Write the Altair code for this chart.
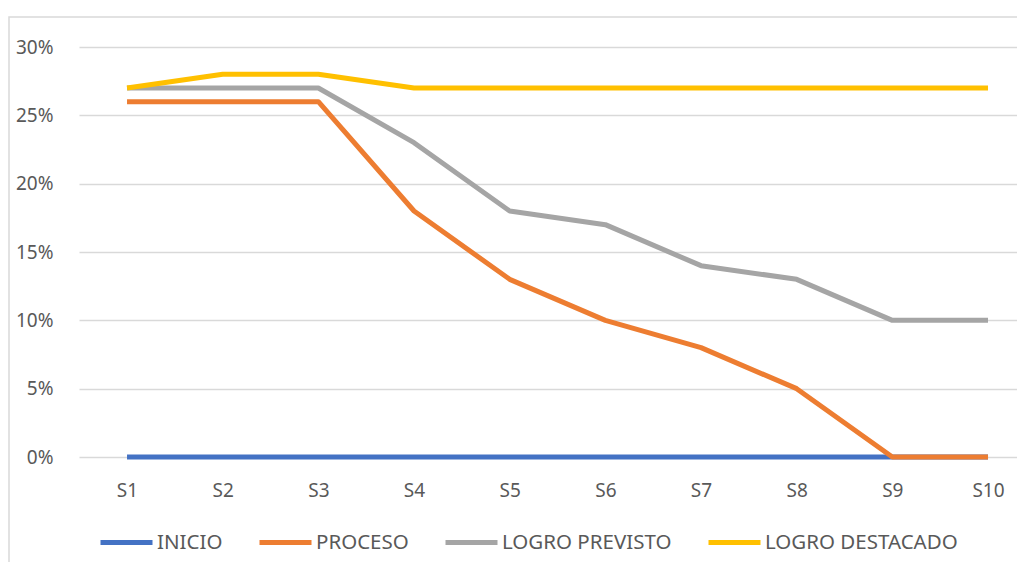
import altair as alt
import pandas as pd

semanas = ["S1", "S2", "S3", "S4", "S5", "S6", "S7", "S8", "S9", "S10"]
series = ["INICIO", "PROCESO", "LOGRO PREVISTO", "LOGRO DESTACADO"]
colores = ["#4472C4", "#ED7D31", "#A5A5A5", "#FFC000"]
inicio = [0, 0, 0, 0, 0, 0, 0, 0, 0, 0]
proceso = [0.26, 0.26, 0.26, 0.18, 0.13, 0.10, 0.08, 0.05, 0.0, 0.0]
logro_previsto = [0.27, 0.27, 0.27, 0.23, 0.18, 0.17, 0.14, 0.13, 0.10, 0.10]
logro_destacado = [0.27, 0.28, 0.28, 0.27, 0.27, 0.27, 0.27, 0.27, 0.27, 0.27]
y_ticks = [0, 0.05, 0.10, 0.15, 0.20, 0.25, 0.30]

valores = [inicio, proceso, logro_previsto, logro_destacado]
rows = []
for k, (s, vals) in enumerate(zip(series, valores)):
    for i, (w, v) in enumerate(zip(semanas, vals)):
        rows.append({"semana": w, "serie": s, "valor": v, "k": k, "i": i})
df = pd.DataFrame(rows)

FONT = "Noto Sans"
TXT = "#595959"

frame = alt.Chart(pd.DataFrame({"a": [1]})).mark_rect(
    fill="transparent", stroke="#d9d9d9", strokeWidth=1.5, clip=False
).encode(
    x=alt.value(-70), x2=alt.value(1000), y=alt.value(-30), y2=alt.value(600)
)

lines = alt.Chart(df).mark_line(strokeWidth=5, strokeCap="butt", strokeJoin="round").encode(
    x=alt.X("semana:N", sort=semanas,
            scale=alt.Scale(type="point", padding=0.4025, align=0.6236),
            axis=alt.Axis(title=None, labelAngle=0, domain=False, ticks=False,
                          grid=False, labelFontSize=19, labelColor=TXT,
                          labelFont=FONT, labelPadding=24)),
    y=alt.Y("valor:Q", scale=alt.Scale(domain=[0, 0.3], nice=False),
            axis=alt.Axis(title=None, values=y_ticks, format=".0%", domain=False,
                          ticks=False, gridColor="#d9d9d9", gridWidth=1.5,
                          labelFontSize=19, labelColor=TXT, labelFont=FONT,
                          labelPadding=26)),
    color=alt.Color("serie:N", sort=series,
                    scale=alt.Scale(domain=series, range=colores),
                    legend=alt.Legend(title=None, orient="none", legendX=19, legendY=467,
                                      direction="horizontal", columns=4,
                                      symbolType="M-1,0H1", symbolSize=2704,
                                      symbolStrokeWidth=5, labelFontSize=20.5,
                                      labelColor=TXT, labelFont=FONT, labelOffset=2,
                                      labelLimit=400, columnPadding=26)),
    detail="k:N",
    order="i:Q",
)

chart = alt.layer(frame, lines).properties(
    width=938, height=410,
    padding={"left": 71, "top": 39, "right": 0, "bottom": 105},
    autosize=alt.AutoSizeParams(type="none"),
).configure_view(stroke=None)

chart.save("out.html", embed_options={"renderer": "svg", "actions": False})
